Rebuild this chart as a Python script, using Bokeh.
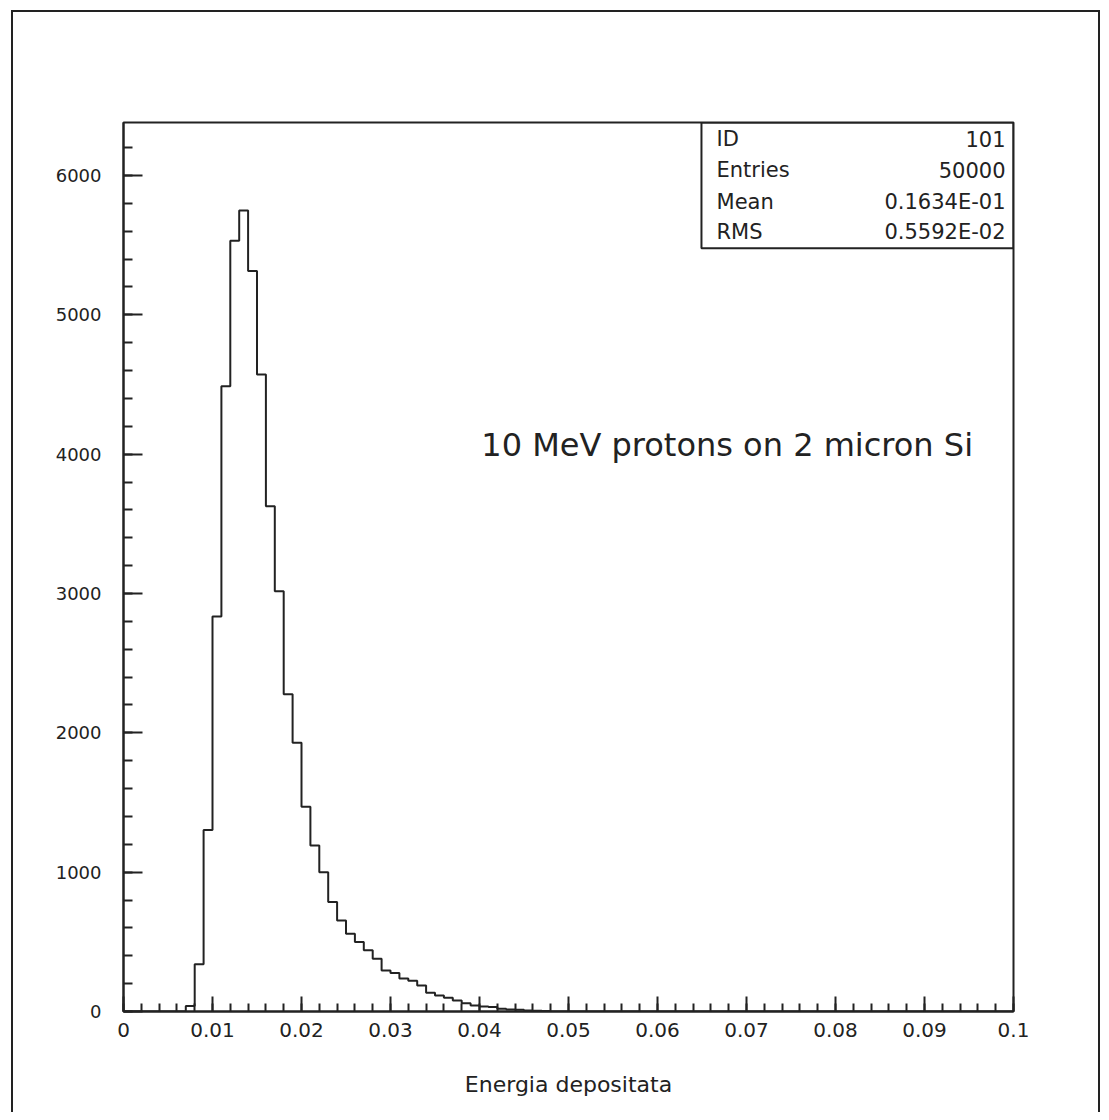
from bokeh.plotting import figure
from bokeh.models import Range1d, FixedTicker, CustomJSTickFormatter, BoxAnnotation, ColumnDataSource
from bokeh.core.properties import value
from bokeh.embed import file_html
from bokeh.resources import INLINE

# ---- data ----
bin_width = 0.001
bin_lo = [round(i * bin_width, 3) for i in range(100)]
nonzero_start = 7  # first filled bin index (0.007)
counts_nonzero = [39, 339, 1303, 2835, 4488, 5531, 5748, 5315, 4571, 3626,
                  3016, 2276, 1929, 1469, 1192, 1000, 785, 653, 558, 498,
                  440, 378, 294, 277, 236, 220, 187, 135, 115, 98,
                  79, 60, 43, 36, 32, 20, 15, 12, 8, 6, 4]
counts = [0] * nonzero_start + counts_nonzero
counts = counts + [0] * (100 - len(counts))

x_major = [0, 0.01, 0.02, 0.03, 0.04, 0.05, 0.06, 0.07, 0.08, 0.09, 0.1]
x_minor = [round(i * 0.002, 3) for i in range(51)]
y_major = [0, 1000, 2000, 3000, 4000, 5000, 6000]
y_minor = [i * 200 for i in range(32)]

stat_names = ["ID", "Entries", "Mean", "RMS"]
stat_values = ["101", "50000", "0.1634E-01", "0.5592E-02"]
stat_rows_y = [6258, 6036, 5813, 5591]
note_text = "10 MeV protons on 2 micron Si"
x_title = "Energia depositata"

FONT = "DejaVu Sans"
INK = "#222222"

W, H = 1101, 1112
p = figure(width=W, height=H, x_range=Range1d(0, 0.1), y_range=Range1d(0, 6380),
           output_backend="svg", toolbar_location=None,
           min_border_left=123, min_border_right=W - 123 - 890,
           min_border_top=122, min_border_bottom=H - 122 - 889)
p.grid.visible = False
p.outline_line_color = INK
p.outline_line_width = 2
p.outline_line_alpha = 1
p.background_fill_color = "white"
p.border_fill_color = None

# outer page frame (left, top, right edges) drawn as CSS background lines
p.styles = {
    "background-color": "white",
    "background-image": "linear-gradient(#222,#222), linear-gradient(#222,#222), linear-gradient(#222,#222)",
    "background-size": "2px 100%, 1088px 2px, 2px 100%",
    "background-position": "11px 10px, 11px 10px, 1098px 10px",
    "background-repeat": "no-repeat",
}

xa = p.xaxis[0]
xa.ticker = FixedTicker(ticks=x_major, minor_ticks=x_minor)
xa.formatter = CustomJSTickFormatter(code="return tick == 0 ? '0' : String(+tick.toFixed(3));")
xa.major_tick_in = 15
xa.major_tick_out = 0
xa.minor_tick_in = 8
xa.minor_tick_out = 0
xa.axis_line_width = 2
xa.axis_line_color = INK
xa.major_tick_line_width = 2
xa.minor_tick_line_width = 2
xa.major_tick_line_color = INK
xa.minor_tick_line_color = INK
xa.major_label_standoff = 11
xa.major_label_text_font = FONT
xa.major_label_text_font_size = "20px"
xa.major_label_text_color = INK
xa.axis_label = x_title
xa.axis_label_text_font = FONT
xa.axis_label_text_font_style = "normal"
xa.axis_label_text_font_size = "22px"
xa.axis_label_text_color = INK
xa.axis_label_standoff = 32

ya = p.yaxis[0]
ya.ticker = FixedTicker(ticks=y_major, minor_ticks=y_minor)
ya.major_tick_in = 19
ya.major_tick_out = 0
ya.minor_tick_in = 9
ya.minor_tick_out = 0
ya.axis_line_width = 2
ya.axis_line_color = INK
ya.major_tick_line_width = 2
ya.minor_tick_line_width = 2
ya.major_tick_line_color = INK
ya.minor_tick_line_color = INK
ya.major_label_standoff = 22
ya.major_label_text_font = FONT
ya.major_label_text_font_size = "18px"
ya.major_label_text_color = INK

# histogram outline
edges = bin_lo + [0.1]
steps = counts + [counts[-1]]
p.step(x=edges, y=steps, mode="after", line_color=INK, line_width=2)

# annotation
p.text(x=[0.0402], y=[4063], text=[note_text], text_font=value(FONT), text_font_size="32px",
       text_baseline="middle", text_align="left", text_color=INK)

# stats box
p.add_layout(BoxAnnotation(left=0.06494, right=0.1, bottom=5477, top=6380,
                           fill_alpha=0, line_color=INK, line_alpha=1, line_width=2))
src = ColumnDataSource(dict(name=stat_names, val=stat_values, y=stat_rows_y,
                            xl=[0.06663] * 4, xr=[0.0991] * 4))
p.text(x="xl", y="y", text="name", source=src, text_font=value(FONT), text_font_size="21px",
       text_baseline="middle", text_align="left", text_color=INK)
p.text(x="xr", y="y", text="val", source=src, text_font=value(FONT), text_font_size="21px",
       text_baseline="middle", text_align="right", text_color=INK)

open("out.html", "w").write(file_html(p, INLINE))
